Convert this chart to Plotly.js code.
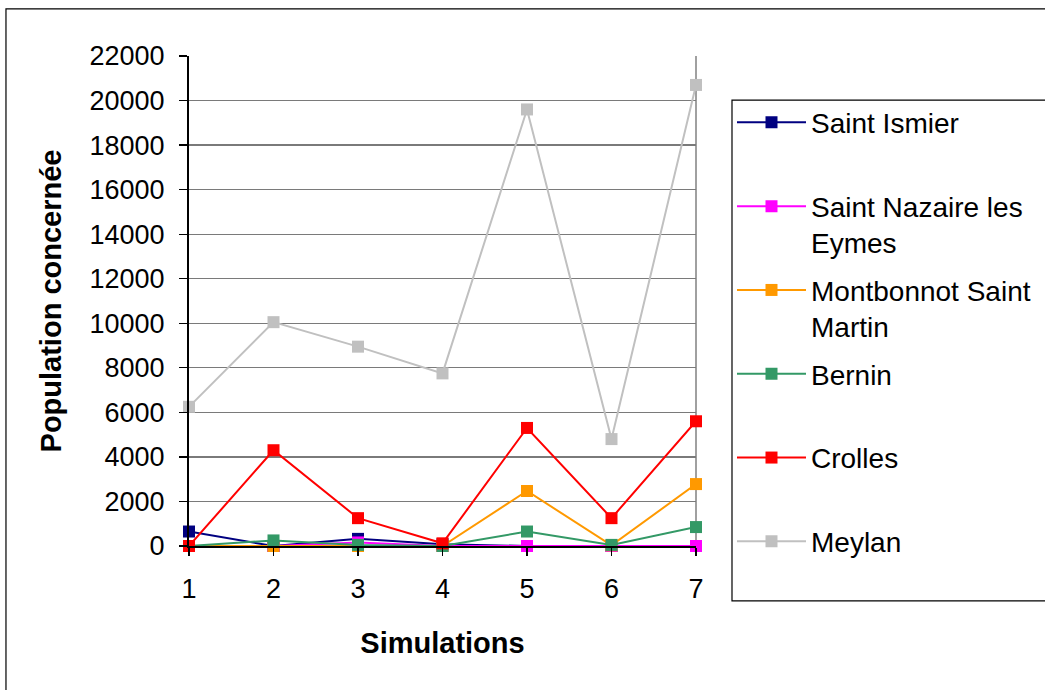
<!DOCTYPE html>
<html>
<head>
<meta charset="utf-8">
<script src="https://cdn.plot.ly/plotly-3.0.1.min.js"></script>
<style>
  body { margin: 0; background: #ffffff; }
  #chart { width: 1045px; height: 690px; }
</style>
</head>
<body>
<div id="chart"></div>
<script>
// ---- data ----
const simulations = [1, 2, 3, 4, 5, 6, 7];
const seriesNames = [
  "Saint Ismier",
  "Saint Nazaire les<br>Eymes",
  "Montbonnot Saint<br>Martin",
  "Bernin",
  "Crolles",
  "Meylan"
];
const saintIsmier  = [650, 0, 320, 80, 0, 0, 0];
const saintNazaire = [0, 0, 160, 0, 0, 0, 0];
const montbonnot   = [0, 0, 0, 0, 2470, 30, 2780];
const bernin       = [0, 250, 50, 0, 650, 50, 850];
const crolles      = [0, 4300, 1250, 120, 5300, 1250, 5600];
const meylan       = [6250, 10050, 8950, 7750, 19600, 4800, 20700];
const yTickValues  = [0, 2000, 4000, 6000, 8000, 10000, 12000, 14000, 16000, 18000, 20000, 22000];
const yTitle = "Population concernée";
const xTitle = "Simulations";

// ---- styles ----
const seriesValues = [saintIsmier, saintNazaire, montbonnot, bernin, crolles, meylan];
const seriesColors = ["#000080", "#FF00FF", "#FF9900", "#339966", "#FF0000", "#C0C0C0"];
const FONT = "'Liberation Sans', Arial, sans-serif";

const traces = seriesValues.map((vals, i) => {
  const name = seriesNames[i];
  const legendName = name.indexOf("<br>") >= 0 ? name : name + "<br> ";
  return {
    type: "scatter",
    mode: "lines+markers",
    x: simulations,
    y: vals,
    name: legendName,
    legendgroup: "g" + i,
    line: { color: seriesColors[i], width: 2 },
    marker: { symbol: "square", size: 12, color: seriesColors[i] },
    cliponaxis: false,
    hoverinfo: "x+y+name"
  };
});

const layout = {
  width: 1045,
  height: 690,
  paper_bgcolor: "#ffffff",
  plot_bgcolor: "#ffffff",
  font: { family: FONT, color: "#000000", size: 27 },
  margin: { l: 189, r: 349, t: 56, b: 144, autoexpand: false },
  showlegend: true,
  legend: {
    x: 1.071, y: 0.915, xanchor: "left", yanchor: "top",
    borderwidth: 0, bgcolor: "rgba(0,0,0,0)",
    font: { family: FONT, size: 28, color: "#000000" },
    traceorder: "grouped",
    tracegroupgap: 8,
    itemwidth: 69,
    valign: "top"
  },
  xaxis: {
    type: "linear",
    range: [1, 7],
    tickvals: simulations,
    ticktext: simulations.map(String),
    showgrid: false,
    zeroline: false,
    showline: true, linecolor: "#000000", linewidth: 2,
    ticks: "outside", ticklen: 8, tickwidth: 1.2, tickcolor: "#000000",
    ticklabelstandoff: 10,
    tickfont: { family: FONT, size: 27, color: "#000000" },
    title: { text: xTitle, font: { family: FONT, size: 29, color: "#000000", weight: "bold" }, standoff: 29 },
    automargin: false,
    fixedrange: true
  },
  yaxis: {
    type: "linear",
    range: [0, 22000],
    tickvals: yTickValues,
    ticktext: yTickValues.map(String),
    showgrid: true, gridcolor: "#7a7a7a", gridwidth: 1.3,
    zeroline: false,
    showline: true, linecolor: "#000000", linewidth: 2,
    ticks: "outside", ticklen: 8, tickwidth: 1.2, tickcolor: "#000000",
    ticklabelstandoff: 9,
    tickfont: { family: FONT, size: 27, color: "#000000" },
    title: { text: yTitle, font: { family: FONT, size: 29, color: "#000000", weight: "bold" }, standoff: 19 },
    automargin: false,
    fixedrange: true
  },
  shapes: [
    // right edge of plot area (grey)
    { type: "line", xref: "paper", yref: "paper", x0: 1, x1: 1, y0: 0, y1: 1,
      line: { color: "#808080", width: 1.5 }, layer: "below" },
    // legend box
    { type: "rect", xref: "paper", yref: "paper", x0: 1.071, x1: 1.75, y0: -0.112, y1: 0.910,
      line: { color: "#000000", width: 1.2 }, fillcolor: "rgba(0,0,0,0)", layer: "below" },
    // outer chart border
    { type: "rect", xref: "paper", yref: "paper", x0: -0.361, x1: 1.75, y0: -0.32, y1: 1.096,
      line: { color: "#000000", width: 1.2 }, fillcolor: "rgba(0,0,0,0)", layer: "below" }
  ]
};

Plotly.newPlot("chart", traces, layout, { displayModeBar: false, staticPlot: true });
</script>
</body>
</html>
